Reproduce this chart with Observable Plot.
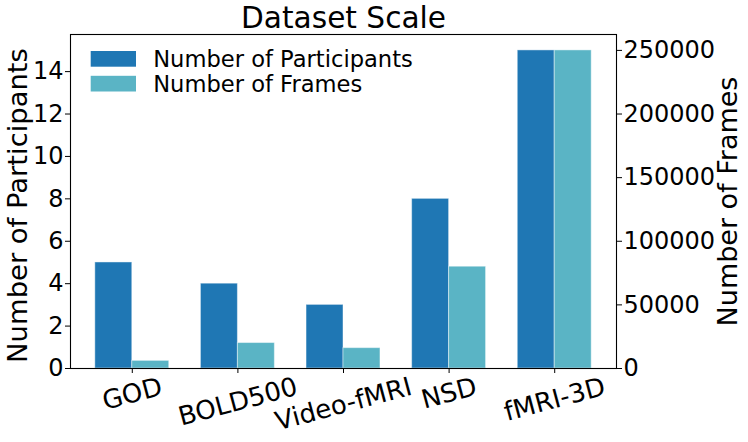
<!DOCTYPE html>
<html><head><meta charset="utf-8">
<script src="https://cdn.jsdelivr.net/npm/d3@7"></script>
<script src="https://cdn.jsdelivr.net/npm/@observablehq/plot@0.6"></script>
<style>body{margin:0;background:#fff;}</style>
</head><body><div id="chart"></div>
<script>
const categories = ["GOD", "BOLD500", "Video-fMRI", "NSD", "fMRI-3D"];
const participants = [5, 4, 3, 8, 15];
const frames = [6000, 20000, 16000, 80000, 250000];
const leftTicks = [0, 2, 4, 6, 8, 10, 12, 14];
const rightTicks = [0, 50000, 100000, 150000, 200000, 250000];
const seriesNames = ["Number of Participants", "Number of Frames"];
const colors = ["#1f77b4", "#5ab4c5"];
const title = "Dataset Scale";
const leftLabel = "Number of Participants";
const rightLabel = "Number of Frames";

const leftMax = 15.75, rightMax = 262500;
const k = leftMax / rightMax;
const barW = 0.35;
const rows = categories.map((c, i) => ({i, c, p: participants[i], f: frames[i] * k}));
const FONT = "DejaVu Sans, sans-serif";

const canvas = document.createElement("canvas");
const ctx = canvas.getContext("2d");
ctx.font = "26px 'DejaVu Sans'";
const rad = 15 * Math.PI / 180;
const tickDy = c => 17.75 + ctx.measureText(c).width * Math.sin(rad) / 2;

function legendMark(index, scales, values, dimensions) {
  const g = d3.create("svg:g").attr("text-anchor", "start");
  const x0 = dimensions.marginLeft + 20.7, y0 = dimensions.marginTop + 17;
  seriesNames.forEach((name, j) => {
    g.append("rect").attr("x", x0).attr("y", y0 + j * 24.8)
      .attr("width", 45.3).attr("height", 15.7).attr("fill", colors[j]);
    g.append("text").attr("x", x0 + 62.5).attr("y", y0 + 15.9 + j * 24.8)
      .attr("text-anchor", "start")
      .attr("font-size", 22.6).attr("fill", "black").text(name);
  });
  return g.node();
}

const barStyle = {stroke: "white", strokeOpacity: 0.45, strokeWidth: 1};

const plot = Plot.plot({
  width: 748, height: 442,
  marginLeft: 70, marginRight: 132, marginTop: 34, marginBottom: 74,
  style: {fontFamily: FONT, background: "white", color: "black", fontSize: "24px", overflow: "visible"},
  x: {type: "linear", domain: [-0.585, 4.585], axis: null},
  y: {domain: [0, leftMax], axis: null},
  marks: [
    Plot.rectY(rows, {x1: d => d.i - barW, x2: "i", y1: 0, y2: "p", fill: colors[0], ...barStyle}),
    Plot.rectY(rows, {x1: "i", x2: d => d.i + barW, y1: 0, y2: "f", fill: colors[1], ...barStyle}),
    Plot.frame({stroke: "black", strokeWidth: 1.1}),
    Plot.axisY({anchor: "left", ticks: leftTicks, tickSize: 5, tickPadding: 2, fontSize: 24, label: null}),
    Plot.axisY({anchor: "right", ticks: rightTicks.map(v => v * k), tickFormat: d => String(Math.round(d / k)), tickSize: 5, tickPadding: 2, fontSize: 24, label: null}),
    Plot.axisX({ticks: categories.map((_, i) => i), tickFormat: () => "", tickSize: 5, label: null}),
    ...rows.map(r => Plot.text([r], {x: "i", frameAnchor: "bottom", text: "c", rotate: -15, fontSize: 26, textAnchor: "middle", lineAnchor: "middle", dy: tickDy(r.c)})),
    Plot.text([title], {frameAnchor: "top", lineAnchor: "bottom", dy: -6.7, fontSize: 29.6}),
    Plot.text([leftLabel], {frameAnchor: "left", rotate: -90, lineAnchor: "bottom", textAnchor: "middle", dx: -43.3, dy: 4, fontSize: 27.4}),
    Plot.text([rightLabel], {frameAnchor: "right", rotate: -90, lineAnchor: "bottom", textAnchor: "middle", dx: 120.7, fontSize: 27}),
    legendMark
  ]
});
document.getElementById("chart").appendChild(plot);
</script>
</body></html>
